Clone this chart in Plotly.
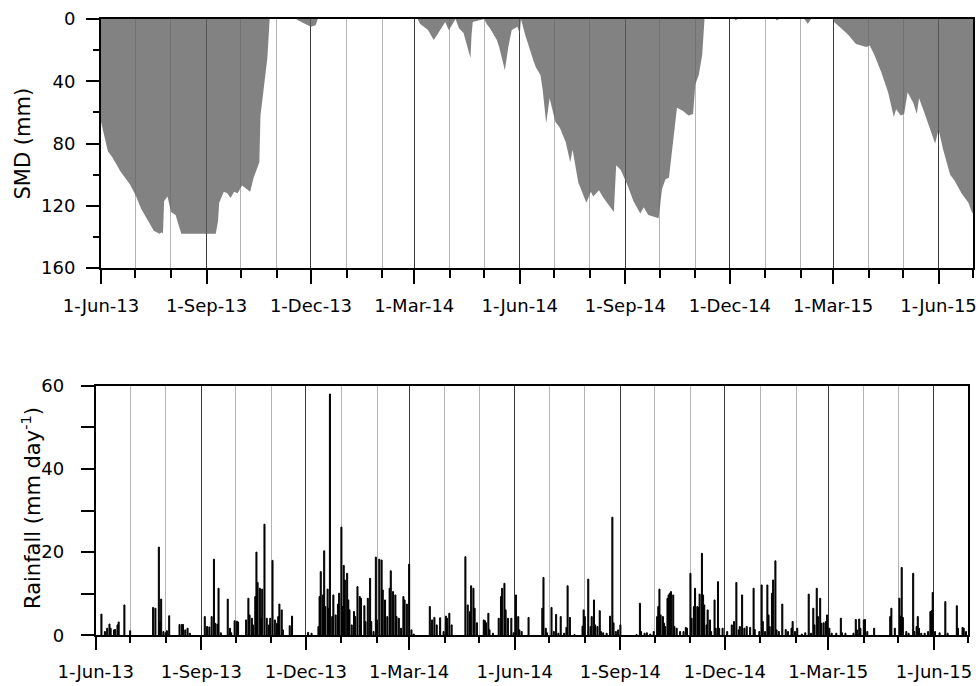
import plotly.graph_objects as go

# ---------------- data ----------------
smd_dates = [
    "2013-06-01", "2013-06-04", "2013-06-07", "2013-06-11", "2013-06-18", "2013-06-26",
    "2013-07-01", "2013-07-06", "2013-07-12", "2013-07-17", "2013-07-22", "2013-07-24",
    "2013-07-25", "2013-07-26", "2013-07-29", "2013-08-01", "2013-08-05", "2013-08-10",
    "2013-09-09", "2013-09-11", "2013-09-12", "2013-09-16", "2013-09-19", "2013-09-22",
    "2013-09-25", "2013-09-28", "2013-10-02", "2013-10-09", "2013-10-12", "2013-10-15",
    "2013-10-17", "2013-10-18", "2013-10-21", "2013-10-22", "2013-10-24", "2013-10-26",
    "2013-11-18", "2013-11-20", "2013-11-25", "2013-12-01", "2013-12-05", "2013-12-07",
    "2014-03-04", "2014-03-06", "2014-03-13", "2014-03-18", "2014-03-22", "2014-03-27",
    "2014-03-28", "2014-03-31", "2014-04-02", "2014-04-06", "2014-04-09", "2014-04-13",
    "2014-04-19", "2014-04-20", "2014-04-21", "2014-05-01", "2014-05-03", "2014-05-06",
    "2014-05-12", "2014-05-14", "2014-05-19", "2014-05-22", "2014-05-25", "2014-05-30",
    "2014-06-01", "2014-06-02", "2014-06-06", "2014-06-13", "2014-06-15", "2014-06-19",
    "2014-06-21", "2014-06-24", "2014-06-27", "2014-07-02", "2014-07-06", "2014-07-11",
    "2014-07-15", "2014-07-17", "2014-07-22", "2014-07-29", "2014-08-02", "2014-08-04",
    "2014-08-09", "2014-08-13", "2014-08-18", "2014-08-22", "2014-08-24", "2014-08-28",
    "2014-09-03", "2014-09-08", "2014-09-14", "2014-09-17", "2014-09-21", "2014-09-30",
    "2014-10-03", "2014-10-06", "2014-10-09", "2014-10-12", "2014-10-16", "2014-10-21",
    "2014-10-26", "2014-10-30", "2014-11-01", "2014-11-04", "2014-11-07", "2014-11-09",
    "2014-12-05", "2014-12-06", "2014-12-08", "2015-01-10", "2015-01-11", "2015-01-13",
    "2015-02-04", "2015-02-07", "2015-02-10", "2015-03-01", "2015-03-02", "2015-03-08",
    "2015-03-14", "2015-03-21", "2015-03-25", "2015-03-30", "2015-04-02", "2015-04-06",
    "2015-04-12", "2015-04-18", "2015-04-23", "2015-04-25", "2015-04-29", "2015-05-02",
    "2015-05-05", "2015-05-10", "2015-05-13", "2015-05-15", "2015-05-19", "2015-05-23",
    "2015-05-29", "2015-06-01", "2015-06-05", "2015-06-11", "2015-06-15", "2015-06-21",
    "2015-06-27", "2015-06-30", "2015-07-01",
]
smd_mm = [
    66, 75, 85, 89, 98, 106,
    113, 122, 130, 136, 138, 137,
    138, 117, 114, 124, 126, 138,
    138, 130, 118, 111, 112, 115,
    111, 112, 107, 111, 102, 96,
    92, 62, 45, 37, 25, 0,
    0, 1, 3, 5, 4, 0,
    0, 3, 7, 13.5, 9, 3,
    2, 7, 5, 0, 6, 9,
    25, 10, 2, 0, 3, 6,
    13.5, 18, 33, 18, 7, 5,
    10, 0, 11, 27, 31, 36,
    46, 67, 51, 66, 70, 79,
    92, 84, 105, 118, 111, 114,
    110, 115, 120, 124, 94, 97,
    107, 117, 125, 121, 126, 128,
    109, 103, 102, 83, 57, 59,
    62, 61, 42, 36, 23, 0,
    0, 1, 0, 0, 1, 0,
    0, 3, 0, 0, 2, 6,
    10, 16, 17, 18, 17, 23,
    34, 47, 63, 58, 62, 61,
    47, 54, 61, 51, 59, 68,
    80, 71, 84, 100, 104, 112,
    118, 124, 125,
]

rain_dates = [
    "2013-06-06", "2013-06-09", "2013-06-11", "2013-06-13", "2013-06-14", "2013-06-17",
    "2013-06-18", "2013-06-20", "2013-06-21", "2013-06-26", "2013-07-01", "2013-07-21",
    "2013-07-23", "2013-07-26", "2013-07-27", "2013-07-28", "2013-07-30", "2013-08-01",
    "2013-08-02", "2013-08-04", "2013-08-13", "2013-08-15", "2013-08-16", "2013-08-18",
    "2013-08-20", "2013-08-22", "2013-09-04", "2013-09-06", "2013-09-08", "2013-09-10",
    "2013-09-12", "2013-09-13", "2013-09-15", "2013-09-16", "2013-09-18", "2013-09-24",
    "2013-09-26", "2013-09-27", "2013-09-30", "2013-10-02", "2013-10-03", "2013-10-10",
    "2013-10-12", "2013-10-13", "2013-10-15", "2013-10-16", "2013-10-18", "2013-10-19",
    "2013-10-20", "2013-10-22", "2013-10-23", "2013-10-24", "2013-10-26", "2013-10-28",
    "2013-10-30", "2013-10-31", "2013-11-02", "2013-11-04", "2013-11-06", "2013-11-07",
    "2013-11-08", "2013-11-10", "2013-11-11", "2013-11-17", "2013-11-19", "2013-12-03",
    "2013-12-06", "2013-12-12", "2013-12-13", "2013-12-14", "2013-12-16", "2013-12-17",
    "2013-12-18", "2013-12-20", "2013-12-21", "2013-12-22", "2013-12-24", "2013-12-25",
    "2013-12-27", "2013-12-29", "2013-12-30", "2014-01-01", "2014-01-02", "2014-01-03",
    "2014-01-04", "2014-01-06", "2014-01-07", "2014-01-08", "2014-01-10", "2014-01-12",
    "2014-01-13", "2014-01-15", "2014-01-17", "2014-01-18", "2014-01-21", "2014-01-22",
    "2014-01-24", "2014-01-26", "2014-01-27", "2014-01-29", "2014-01-31", "2014-02-01",
    "2014-02-03", "2014-02-05", "2014-02-06", "2014-02-08", "2014-02-10", "2014-02-12",
    "2014-02-13", "2014-02-15", "2014-02-17", "2014-02-18", "2014-02-20", "2014-02-22",
    "2014-02-24", "2014-02-25", "2014-02-27", "2014-03-01", "2014-03-03", "2014-03-05",
    "2014-03-19", "2014-03-21", "2014-03-23", "2014-03-25", "2014-03-28", "2014-03-31",
    "2014-04-02", "2014-04-03", "2014-04-05", "2014-04-07", "2014-04-19", "2014-04-21",
    "2014-04-23", "2014-04-24", "2014-04-26", "2014-04-27", "2014-04-29", "2014-05-05",
    "2014-05-06", "2014-05-07", "2014-05-09", "2014-05-10", "2014-05-13", "2014-05-18",
    "2014-05-20", "2014-05-21", "2014-05-23", "2014-05-24", "2014-05-26", "2014-05-29",
    "2014-05-31", "2014-06-02", "2014-06-04", "2014-06-05", "2014-06-07", "2014-06-13",
    "2014-06-25", "2014-06-26", "2014-06-28", "2014-06-29", "2014-07-03", "2014-07-05",
    "2014-07-07", "2014-07-09", "2014-07-11", "2014-07-14", "2014-07-16", "2014-07-17",
    "2014-07-19", "2014-07-23", "2014-07-30", "2014-07-31", "2014-08-01", "2014-08-04",
    "2014-08-06", "2014-08-07", "2014-08-09", "2014-08-10", "2014-08-12", "2014-08-14",
    "2014-08-15", "2014-08-17", "2014-08-20", "2014-08-23", "2014-08-25", "2014-08-26",
    "2014-08-28", "2014-08-30", "2014-09-01", "2014-09-15", "2014-09-18", "2014-09-19",
    "2014-09-22", "2014-09-24", "2014-09-27", "2014-09-30", "2014-10-03", "2014-10-04",
    "2014-10-05", "2014-10-06", "2014-10-08", "2014-10-09", "2014-10-10", "2014-10-12",
    "2014-10-13", "2014-10-14", "2014-10-15", "2014-10-17", "2014-10-18", "2014-10-20",
    "2014-10-23", "2014-10-26", "2014-10-28", "2014-10-29", "2014-11-01", "2014-11-02",
    "2014-11-04", "2014-11-05", "2014-11-07", "2014-11-08", "2014-11-09", "2014-11-11",
    "2014-11-12", "2014-11-13", "2014-11-15", "2014-11-16", "2014-11-18", "2014-11-19",
    "2014-11-22", "2014-11-23", "2014-11-25", "2014-11-26", "2014-11-29", "2014-12-03",
    "2014-12-07", "2014-12-09", "2014-12-11", "2014-12-13", "2014-12-14", "2014-12-16",
    "2014-12-18", "2014-12-20", "2014-12-23", "2014-12-26", "2014-12-27", "2014-12-31",
    "2015-01-02", "2015-01-03", "2015-01-05", "2015-01-07", "2015-01-08", "2015-01-09",
    "2015-01-11", "2015-01-12", "2015-01-14", "2015-01-15", "2015-01-17", "2015-01-20",
    "2015-01-23", "2015-01-25", "2015-01-28", "2015-01-29", "2015-01-31", "2015-02-02",
    "2015-02-06", "2015-02-09", "2015-02-12", "2015-02-14", "2015-02-16", "2015-02-17",
    "2015-02-19", "2015-02-20", "2015-02-22", "2015-02-23", "2015-02-25", "2015-02-27",
    "2015-02-28", "2015-03-02", "2015-03-04", "2015-03-08", "2015-03-12", "2015-03-13",
    "2015-03-16", "2015-03-23", "2015-03-25", "2015-03-26", "2015-03-28", "2015-03-29",
    "2015-04-01", "2015-04-02", "2015-04-04", "2015-04-10", "2015-04-24", "2015-04-25",
    "2015-04-28", "2015-05-02", "2015-05-03", "2015-05-04", "2015-05-05", "2015-05-08",
    "2015-05-10", "2015-05-14", "2015-05-15", "2015-05-17", "2015-05-18", "2015-05-19",
    "2015-05-21", "2015-05-24", "2015-05-27", "2015-05-29", "2015-05-30", "2015-05-31",
    "2015-06-02", "2015-06-06", "2015-06-11", "2015-06-13", "2015-06-21", "2015-06-22",
    "2015-06-26", "2015-06-27", "2015-06-29",
]
rain_mm = [
    5.1, 0.9, 1.7, 2.7, 1.7, 1.3,
    1.4, 2.5, 3.2, 7.3, 1.1, 6.7,
    6.5, 21.2, 3.3, 8.7, 0.9, 0.6,
    1.1, 4.7, 2.6, 2.6, 2.6, 1.3,
    1.7, 0.5, 4.5, 2.1, 2.0, 4.5,
    18.3, 2.9, 2.7, 11.3, 0.6, 8.7,
    1.7, 0.6, 3.5, 3.4, 3.2, 3.7,
    8.9, 4.9, 4.1, 2.5, 9.3, 20.0,
    12.7, 11.3, 4.1, 11.1, 26.7, 4.1,
    2.5, 4.1, 18.0, 3.7, 2.9, 4.5,
    7.5, 6.1, 1.3, 2.3, 4.6, 0.7,
    0.5, 2.1, 9.3, 15.3, 9.7, 20.3,
    6.9, 11.1, 6.5, 58.0, 4.5, 9.7,
    4.9, 7.5, 10.1, 26.0, 6.9, 16.8,
    13.3, 14.9, 8.5, 6.1, 2.5, 5.7,
    4.5, 11.7, 9.3, 8.9, 7.1, 3.3,
    8.9, 13.7, 3.3, 0.9, 18.8, 3.7,
    18.3, 18.1, 10.9, 8.5, 4.5, 11.3,
    15.5, 10.5, 9.7, 4.5, 4.1, 1.7,
    9.3, 8.5, 7.5, 17.1, 1.3, 0.3,
    6.9, 3.7, 4.3, 2.5, 4.2, 0.9,
    4.6, 4.1, 5.3, 2.5, 18.9, 7.3,
    5.7, 11.9, 11.3, 6.5, 3.0, 3.7,
    3.5, 3.0, 5.3, 1.3, 0.5, 4.1,
    9.3, 11.3, 12.5, 6.1, 4.1, 4.1,
    0.6, 9.7, 4.5, 1.3, 0.9, 4.3,
    6.5, 13.9, 1.7, 0.6, 6.7, 0.9,
    5.0, 0.5, 4.5, 0.5, 1.9, 11.9,
    4.3, 0.2, 2.2, 6.1, 4.5, 13.5,
    2.1, 4.5, 8.5, 2.5, 2.1, 5.9,
    0.9, 0.6, 0.5, 4.6, 28.4, 3.0,
    0.9, 1.3, 2.5, 0.2, 7.7, 0.9,
    0.5, 0.6, 0.3, 0.9, 4.5, 6.9,
    11.1, 4.9, 4.5, 2.9, 2.1, 8.9,
    9.7, 10.1, 10.5, 9.7, 2.1, 1.7,
    0.9, 0.9, 1.9, 1.7, 14.9, 4.1,
    6.9, 11.3, 6.9, 6.7, 9.9, 19.7,
    9.7, 7.3, 2.5, 6.1, 3.7, 0.9,
    8.5, 1.7, 12.9, 1.7, 1.7, 0.9,
    2.5, 3.3, 12.7, 1.3, 2.1, 9.7,
    1.7, 2.1, 1.9, 11.3, 1.4, 0.9,
    12.1, 3.3, 0.9, 12.1, 4.9, 2.1,
    10.1, 13.3, 17.9, 1.3, 0.9, 7.5,
    1.4, 0.9, 1.7, 3.3, 0.9, 1.7,
    0.3, 0.6, 9.9, 0.5, 6.5, 2.5,
    11.3, 4.5, 8.9, 2.9, 3.0, 3.3,
    4.9, 1.7, 0.5, 0.5, 4.1, 0.6,
    0.5, 0.5, 3.8, 1.3, 3.9, 1.7,
    3.7, 3.8, 0.9, 1.7, 4.5, 6.5,
    1.7, 8.9, 4.6, 16.3, 4.3, 0.9,
    0.5, 14.9, 0.9, 2.1, 4.5, 1.7,
    0.5, 0.5, 0.9, 5.7, 5.9, 10.3,
    0.9, 0.6, 8.1, 0.5, 7.1, 1.7,
    1.9, 1.7, 0.9,
]

tick_dates = ["2013-06-01", "2013-09-01", "2013-12-01", "2014-03-01", "2014-06-01",
              "2014-09-01", "2014-12-01", "2015-03-01", "2015-06-01"]
tick_labels = ["1-Jun-13", "1-Sep-13", "1-Dec-13", "1-Mar-14", "1-Jun-14",
               "1-Sep-14", "1-Dec-14", "1-Mar-15", "1-Jun-15"]
x_range = ["2013-06-01", "2015-07-01"]
smd_ticks = [0, 40, 80, 120, 160]
rain_ticks = [0, 20, 40, 60]

# ---------------- figure ----------------
W, H = 980, 686
FONT = "DejaVu Sans"

fig = go.Figure()
fig.add_trace(go.Scatter(
    x=smd_dates, y=smd_mm, mode="lines", fill="tozeroy",
    line=dict(width=0, color="rgba(95,95,95,0.78)"),
    fillcolor="rgba(95,95,95,0.78)", xaxis="x", yaxis="y", showlegend=False,
    hoverinfo="skip",
))
fig.add_trace(go.Bar(
    x=rain_dates, y=rain_mm,
    marker=dict(color="black", line=dict(color="black", width=1.0)),
    width=86400000 * 0.9, xaxis="x2", yaxis="y2", showlegend=False,
    hoverinfo="skip",
))


def xaxis_cfg(domain, anchor, ticklen, minorlen):
    return dict(
        domain=domain, anchor=anchor, type="date", range=x_range,
        tickmode="array", tickvals=tick_dates, ticktext=tick_labels,
        ticks="outside", ticklen=ticklen, tickwidth=2, tickcolor="black",
        showline=True, linewidth=2, linecolor="black", mirror=True,
        showgrid=True, gridcolor="#3a3a3a", gridwidth=1, zeroline=False,
        minor=dict(dtick="M1", tick0="2013-06-01", ticks="outside", ticklen=minorlen,
                   tickwidth=2, tickcolor="black", showgrid=True,
                   gridcolor="#b4b4b4", gridwidth=1),
        tickfont=dict(family=FONT, size=18, color="black"),
        ticklabelstandoff=6,
        layer="above traces", automargin=False, fixedrange=True,
    )


def yaxis_cfg(domain, anchor, rng, ticks, minor_dtick, minorlen, standoff):
    return dict(
        domain=domain, anchor=anchor, range=rng, tickmode="array", tickvals=ticks,
        ticks="outside", ticklen=13, tickwidth=2, tickcolor="black",
        showline=True, linewidth=2, linecolor="black", mirror=True,
        showgrid=False, zeroline=False,
        minor=dict(dtick=minor_dtick, tick0=0, ticks="outside", ticklen=minorlen,
                   tickwidth=2, tickcolor="black", showgrid=False),
        tickfont=dict(family=FONT, size=18, color="black"),
        ticklabelstandoff=standoff,
        layer="above traces", automargin=False, fixedrange=True,
    )


fig.update_layout(
    width=W, height=H,
    margin=dict(l=0, r=0, t=0, b=0),
    paper_bgcolor="white", plot_bgcolor="white",
    bargap=0,
    xaxis=xaxis_cfg([101 / W, 973 / W], "y", 14, 8),
    yaxis=yaxis_cfg([1 - 268 / H, 1 - 19 / H], "x", [160, 0], smd_ticks, 20, 6, 7),
    xaxis2=xaxis_cfg([95.7 / W, 968.3 / W], "y2", 13, 6),
    yaxis2=yaxis_cfg([1 - 635.3 / H, 1 - 385.7 / H], "x2", [0, 60], rain_ticks, 10, 13, 13),
    annotations=[
        dict(text="SMD (mm)", x=23 / W, y=1 - 143.5 / H, xref="paper", yref="paper",
             textangle=-90, showarrow=False, xanchor="center", yanchor="middle",
             font=dict(family=FONT, size=21, color="black")),
        dict(text="Rainfall (mm day<sup>-1</sup>)", x=31 / W, y=1 - 508 / H,
             xref="paper", yref="paper", textangle=-90, showarrow=False,
             xanchor="center", yanchor="middle",
             font=dict(family=FONT, size=21, color="black")),
    ],
)

fig.write_html("out.html", config={"displayModeBar": False, "staticPlot": True},
               post_script="document.body.style.margin='0';")
